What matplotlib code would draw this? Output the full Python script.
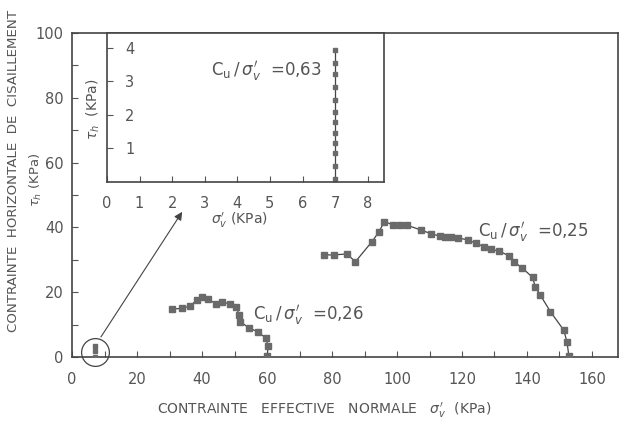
import matplotlib
matplotlib.use("Agg")
import matplotlib.pyplot as plt
from matplotlib.ticker import MultipleLocator

plt.rcParams["font.family"] = ["DejaVu Sans"]
plt.rcParams["mathtext.fontset"] = "dejavusans"

# Stress paths: normal effective stress (kPa) vs horizontal shear stress (kPa)
sig_026 = [30.8, 33.8, 36.3, 38.4, 39.9, 41.9, 44.2, 46.3, 48.5, 50.6,
           51.4, 51.8, 54.4, 57.1, 59.7, 60.3, 60.1]
tau_026 = [14.8, 15.0, 15.7, 17.6, 18.6, 17.8, 16.5, 17.1, 16.3, 15.5,
           13.0, 10.9, 9.0, 7.8, 5.8, 3.3, 0.4]

sig_025 = [77.6, 80.5, 84.6, 87.2, 92.3, 94.5, 96.1, 98.9, 100.9, 103.0,
           107.3, 110.6, 113.2, 114.7, 116.7, 118.7, 121.8, 124.3, 126.9, 128.9,
           131.4, 134.5, 136.0, 138.6, 141.7, 142.6, 144.1, 147.2, 151.3, 152.3,
           152.9]
tau_025 = [31.5, 31.5, 31.8, 29.4, 35.6, 38.7, 41.8, 40.7, 40.7, 40.7,
           39.2, 38.0, 37.3, 37.1, 37.1, 36.8, 36.1, 35.1, 34.0, 33.2,
           32.7, 31.2, 29.4, 27.4, 24.6, 21.5, 19.1, 14.0, 8.3, 4.7,
           0.2]

# Low-stress test (shown enlarged in the inset)
sig_063 = [7.0] * 12
tau_063 = [0.1, 0.48, 0.87, 1.15, 1.45, 1.8, 2.1, 2.45, 2.83, 3.22, 3.55, 3.95]

INK = "#555555"
LINE = "#444444"
MARK = "#6a6a6a"
RATIO = r"$\mathrm{C_u}\,/\,\sigma_v'$  ="

fig = plt.figure(figsize=(6.29, 4.22), dpi=100)
ax = fig.add_axes([0.1145, 0.154, 0.868, 0.768])

for xs, ys in [(sig_026, tau_026), (sig_025, tau_025)]:
    ax.plot(xs, ys, color=LINE, linewidth=0.9, marker="s", markersize=3.8,
            markerfacecolor=MARK, markeredgecolor=MARK, zorder=3)
ax.plot(sig_063[::5], tau_063[::5], linestyle="none", marker="s", markersize=3.2,
        color=MARK, zorder=3)

ax.set_xlim(0, 168)
ax.set_ylim(0, 100)
ax.xaxis.set_major_locator(MultipleLocator(20))
ax.xaxis.set_minor_locator(MultipleLocator(10))
ax.yaxis.set_major_locator(MultipleLocator(20))
ax.yaxis.set_minor_locator(MultipleLocator(10))
ax.tick_params(which="both", direction="in", length=4, width=0.8, color=INK,
               labelcolor=INK, labelsize=10.5, top=False, right=False)
ax.tick_params(axis="x", pad=11)
ax.tick_params(axis="y", pad=6)
for s in ax.spines.values():
    s.set_color(LINE)
    s.set_linewidth(1.2)

# circle around the low-stress test and arrow to the inset
ax.plot([7.2], [1.6], marker="o", markersize=20, markerfacecolor="none",
        markeredgecolor=LINE, markeredgewidth=0.9, clip_on=False)
ax.annotate("", xy=(33.9, 44.8), xytext=(8.9, 6.2),
            arrowprops=dict(arrowstyle="-|>", color=LINE, lw=0.8,
                            mutation_scale=12, shrinkA=0, shrinkB=0))

ax.text(125, 38.6, RATIO + "0,25", fontsize=12, color=INK, va="center")
ax.text(55.6, 13, RATIO + "0,26", fontsize=12, color=INK, va="center")

fig.text(0.515, 0.028, r"CONTRAINTE   EFFECTIVE   NORMALE   $\sigma_v'$  (KPa)",
         ha="center", va="center", fontsize=10, color=INK)
fig.text(0.022, 0.595, "CONTRAINTE  HORIZONTALE  DE  CISAILLEMENT",
         rotation=90, ha="center", va="center", fontsize=9.6, color=INK)
fig.text(0.057, 0.575, r"$\tau_h$ (KPa)", rotation=90, ha="center",
         va="center", fontsize=9.5, color=INK)

# inset: zoom on the low-stress test
axi = fig.add_axes([0.170, 0.569, 0.4405, 0.353])
axi.plot(sig_063, tau_063, color=LINE, linewidth=0.9, marker="s",
         markersize=3.2, markerfacecolor=MARK, markeredgecolor=MARK)
axi.set_xlim(0, 8.5)
axi.set_ylim(0, 4.45)
axi.set_xticks(range(0, 9))
axi.set_yticks([1, 2, 3, 4])
axi.tick_params(direction="in", length=4, width=0.8, color=INK,
                labelcolor=INK, labelsize=10.5)
axi.tick_params(axis="y", pad=-13)
for lbl in axi.get_yticklabels():
    lbl.set_horizontalalignment("left")
axi.tick_params(axis="x", pad=10)
for s in axi.spines.values():
    s.set_color(LINE)
    s.set_linewidth(1.2)
axi.text(3.2, 3.3, RATIO + "0,63", fontsize=12, color=INK, va="center")
fig.text(0.148, 0.74, r"$\tau_h$  (KPa)", rotation=90, ha="center",
         va="center", fontsize=10, color=INK)
fig.text(0.38, 0.478, r"$\sigma_v'$ (KPa)", ha="center", va="center",
         fontsize=10, color=INK)

fig.savefig("out.png", dpi=100, facecolor="white")
